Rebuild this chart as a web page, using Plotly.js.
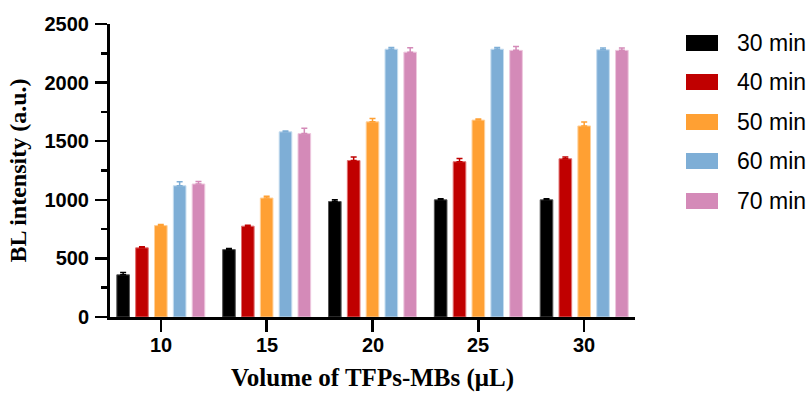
<!DOCTYPE html>
<html>
<head>
<meta charset="utf-8">
<script src="https://cdn.plot.ly/plotly-3.0.1.min.js"></script>
<style>html,body{margin:0;padding:0;background:#fff;}#chart{width:811px;height:397px;}</style>
</head>
<body>
<div id="chart"></div>
<script>
// ---- data ----
const categories = ['10', '15', '20', '25', '30'];
const seriesNames = ['30 min', '40 min', '50 min', '60 min', '70 min'];
const colors = ['#000000', '#C00000', '#FFA033', '#7EAED6', '#D48AB8'];
const edgeColors = ['#555555', '#E07070', '#FFD09A', '#C4DCEF', '#EEC8DE'];
const values30 = [360, 575, 985, 1000, 1000];
const values40 = [590, 775, 1335, 1325, 1350];
const values50 = [780, 1015, 1665, 1680, 1630];
const values60 = [1120, 1580, 2285, 2285, 2280];
const values70 = [1135, 1565, 2260, 2275, 2275];
const err30 = [20, 10, 15, 10, 10];
const err40 = [10, 8, 30, 28, 15];
const err50 = [10, 15, 28, 10, 33];
const err60 = [35, 8, 15, 15, 15];
const err70 = [22, 45, 38, 33, 20];
const yTickVals = [0, 500, 1000, 1500, 2000, 2500];

const allValues = [values30, values40, values50, values60, values70];
const allErrs = [err30, err40, err50, err60, err70];

const traces = seriesNames.map((name, i) => ({
  type: 'bar',
  name: name,
  x: categories,
  y: allValues[i],
  marker: {color: colors[i], line: {color: edgeColors[i], width: 1}},
  error_y: {
    type: 'data', symmetric: false,
    array: allErrs[i],
    arrayminus: allErrs[i].map(() => 0),
    color: colors[i], thickness: 1.5, width: 3
  },
  showlegend: false
}));

// ---- legend drawn as shapes + annotations ----
const plotL = 110, plotR = 635, plotT = 24, plotB = 317;
const pw = plotR - plotL, ph = plotB - plotT;
const px2x = p => (p - plotL) / pw;
const py2y = p => (plotB - p) / ph;
const legendRows = [43, 82, 122, 161, 201];
const shapes = [], annotations = [];
seriesNames.forEach((name, i) => {
  const cy = legendRows[i];
  shapes.push({
    type: 'rect', xref: 'paper', yref: 'paper',
    x0: px2x(686), x1: px2x(718), y0: py2y(cy + 8), y1: py2y(cy - 8),
    fillcolor: colors[i], line: {width: 0}
  });
  annotations.push({
    xref: 'paper', yref: 'paper', x: px2x(735), y: py2y(cy),
    xanchor: 'left', yanchor: 'middle', showarrow: false,
    text: name,
    font: {family: 'Liberation Sans, Arial, sans-serif', size: 23, color: '#000'}
  });
});
// x category labels, placed at the category positions of the x axis (index scale)
categories.forEach((c, i) => {
  annotations.push({
    xref: 'x', yref: 'paper', x: i, y: py2y(345),
    xanchor: 'center', yanchor: 'middle', showarrow: false,
    text: c,
    font: {family: 'Liberation Sans, Arial, sans-serif', size: 20, color: '#000', weight: 'bold'}
  });
});

const layout = {
  width: 811, height: 397,
  margin: {l: plotL, r: 811 - plotR, t: plotT, b: 397 - plotB},
  paper_bgcolor: '#fff', plot_bgcolor: '#fff',
  barmode: 'group', bargap: 0.11, bargroupgap: 0.33,
  showlegend: false,
  xaxis: {
    type: 'category', range: [-0.48, 4.48],
    showline: true, linecolor: '#000', linewidth: 3,
    ticks: 'outside', ticklen: 12, tickwidth: 2.5, tickcolor: '#000',
    showgrid: false, zeroline: false, showticklabels: false,
    title: {text: 'Volume of TFPs-MBs (μL)', standoff: 38,
      font: {family: 'Liberation Serif, Times New Roman, serif', size: 25, color: '#000', weight: 'bold'}}
  },
  yaxis: {
    range: [0, 2500], tickvals: yTickVals,
    showline: true, linecolor: '#000', linewidth: 3,
    ticks: 'outside', ticklen: 12, tickwidth: 2.5, tickcolor: '#000',
    minor: {dtick: 250, ticks: 'outside', ticklen: 6, tickwidth: 2.5, tickcolor: '#000'},
    showgrid: false, zeroline: false,
    tickfont: {family: 'Liberation Sans, Arial, sans-serif', size: 20, color: '#000', weight: 'bold'},
    ticklabelstandoff: 2,
    title: {text: 'BL intensity (a.u.)', standoff: 12,
      font: {family: 'Liberation Serif, Times New Roman, serif', size: 24, color: '#000', weight: 'bold'}}
  },
  shapes: shapes,
  annotations: annotations
};

Plotly.newPlot('chart', traces, layout, {displayModeBar: false, staticPlot: true});
</script>
</body>
</html>
